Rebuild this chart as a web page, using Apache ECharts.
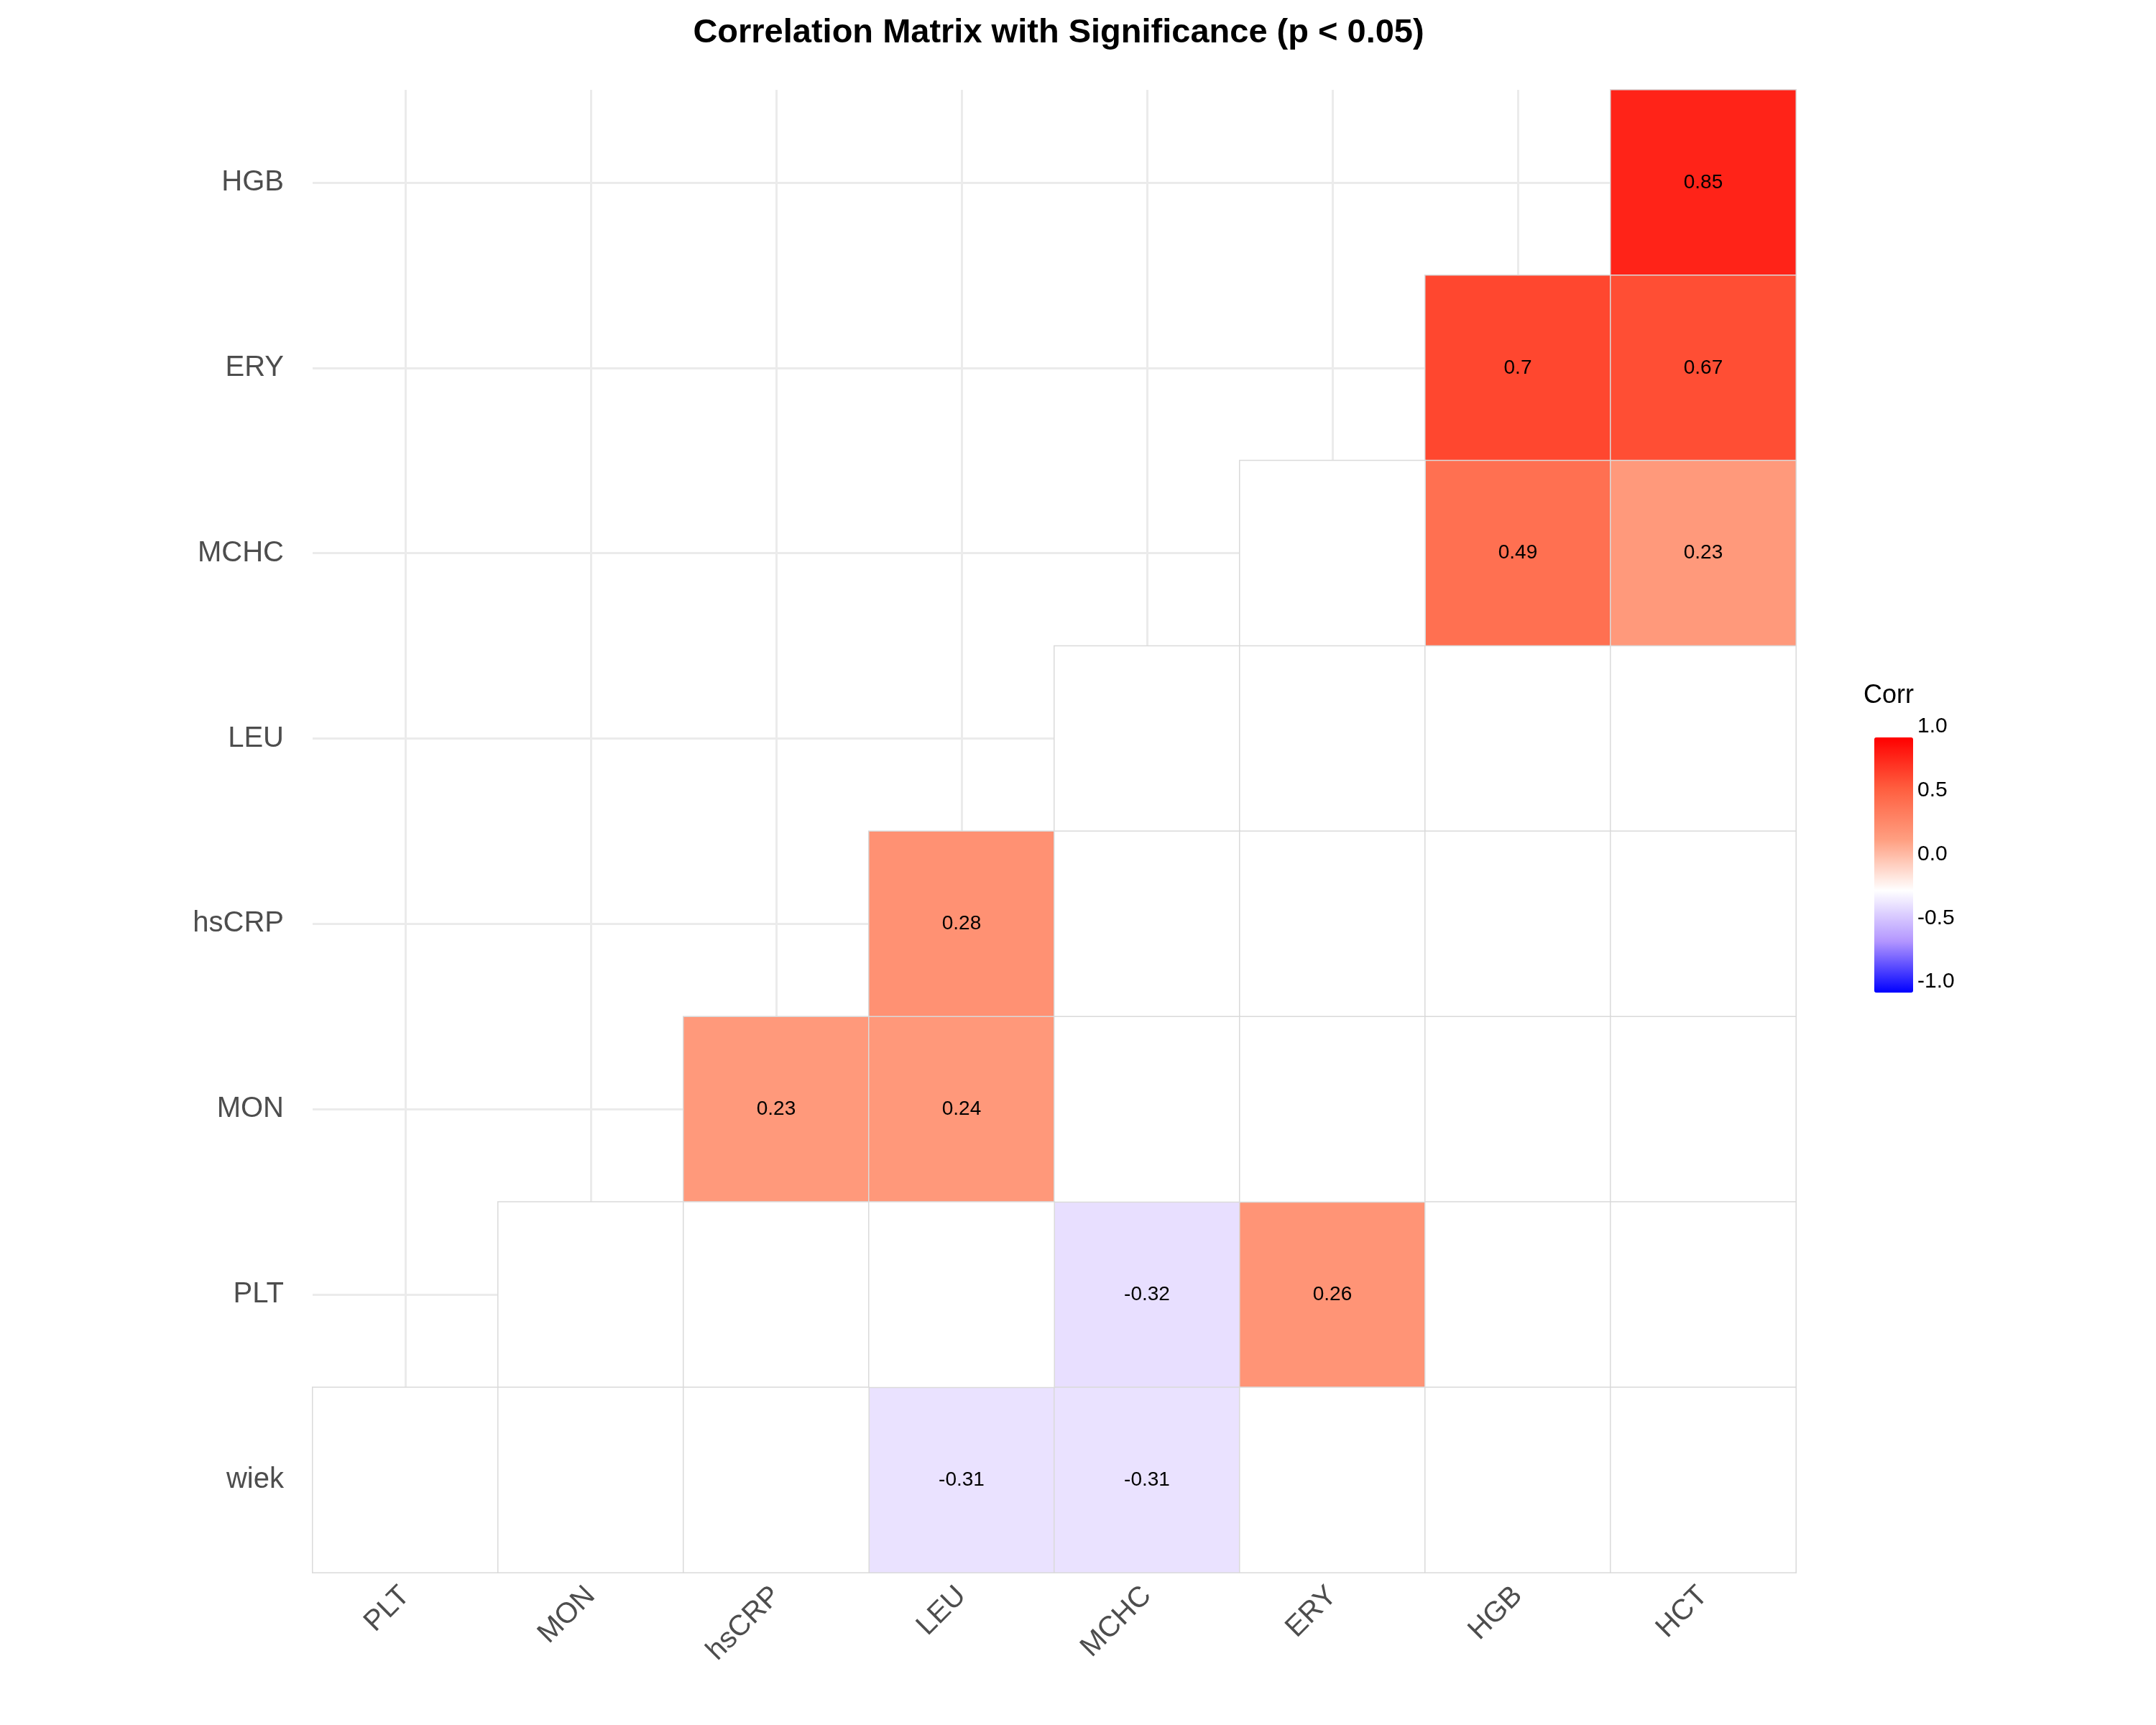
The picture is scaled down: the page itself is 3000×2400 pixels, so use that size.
<!DOCTYPE html>
<html>
<head>
<meta charset="utf-8">
<script src="https://cdn.jsdelivr.net/npm/echarts@6/dist/echarts.min.js"></script>
<style>html,body{margin:0;padding:0;background:#fff}#chart{width:3000px;height:2400px}</style>
</head>
<body>
<div id="chart"></div>
<script>
// categories
const xCats = ['PLT', 'MON', 'hsCRP', 'LEU', 'MCHC', 'ERY', 'HGB', 'HCT'];
const yCats = ['wiek', 'PLT', 'MON', 'hsCRP', 'LEU', 'MCHC', 'ERY', 'HGB'];
// significant correlations [x, y, r]
const sigCells = [
    ['HCT', 'HGB', 0.85],
    ['HGB', 'ERY', 0.7], ['HCT', 'ERY', 0.67],
    ['HGB', 'MCHC', 0.49], ['HCT', 'MCHC', 0.23],
    ['LEU', 'hsCRP', 0.28],
    ['hsCRP', 'MON', 0.23], ['LEU', 'MON', 0.24],
    ['MCHC', 'PLT', -0.32], ['ERY', 'PLT', 0.26],
    ['LEU', 'wiek', -0.31], ['MCHC', 'wiek', -0.31]
];
// non significant cells (blank)
const blankCells = [
    ['ERY', 'MCHC'],
    ['MCHC', 'LEU'], ['ERY', 'LEU'], ['HGB', 'LEU'], ['HCT', 'LEU'],
    ['MCHC', 'hsCRP'], ['ERY', 'hsCRP'], ['HGB', 'hsCRP'], ['HCT', 'hsCRP'],
    ['MCHC', 'MON'], ['ERY', 'MON'], ['HGB', 'MON'], ['HCT', 'MON'],
    ['MON', 'PLT'], ['hsCRP', 'PLT'], ['LEU', 'PLT'], ['HGB', 'PLT'], ['HCT', 'PLT'],
    ['PLT', 'wiek'], ['MON', 'wiek'], ['hsCRP', 'wiek'], ['ERY', 'wiek'], ['HGB', 'wiek'], ['HCT', 'wiek']
];
const legendTicks = [1.0, 0.5, 0.0, -0.5, -1.0];

const chart = echarts.init(document.getElementById('chart'));
const gridTop = 125, gridH = 2063, vmTop = 1011, vmH = 355;

const gridLines = xCats.map(c => ({ xAxis: c })).concat(yCats.map(c => ({ yAxis: c })));

const option = {
    backgroundColor: '#fff',
    title: {
        text: 'Correlation Matrix with Significance (p < 0.05)',
        left: 1468, top: 18, textAlign: 'center',
        textStyle: { fontFamily: 'Liberation Sans', fontWeight: 'bold', fontSize: 47, color: '#000' }
    },
    grid: { left: 435, width: 2064, top: gridTop, height: gridH },
    xAxis: {
        type: 'category', data: xCats,
        axisLine: { show: false }, axisTick: { show: false }, splitLine: { show: false },
        axisLabel: { rotate: 45, fontSize: 40, color: '#4D4D4D', fontFamily: 'Liberation Sans', margin: 26 }
    },
    yAxis: {
        type: 'category', data: yCats,
        axisLine: { show: false }, axisTick: { show: false }, splitLine: { show: false },
        axisLabel: { fontSize: 40, color: '#4D4D4D', fontFamily: 'Liberation Sans', margin: 40 }
    },
    visualMap: {
        type: 'continuous', min: -1, max: 1, seriesIndex: 1,
        calculable: false, showLabel: false, text: ['', ''],
        left: 2593, top: vmTop, itemWidth: 54, itemHeight: vmH,
        inRange: { color: ['#0000FF', '#B295FF', '#FFFFFF', '#FF9E80', '#FF5E3F', '#FF0000'] }
    },
    graphic: [{
        type: 'text', left: 2593, top: 950,
        style: { text: 'Corr', fontSize: 36, fill: '#000', fontFamily: 'Liberation Sans' }
    }].concat(legendTicks.map(v => ({
        type: 'text', left: 2668, top: vmTop + (1 - v) / 2 * vmH - 15,
        style: { text: v.toFixed(1), fontSize: 30, fill: '#000', fontFamily: 'Liberation Sans' }
    }))),
    series: [{
        type: 'scatter', data: [], zlevel: 0,
        markLine: {
            silent: true, symbol: 'none', label: { show: false },
            lineStyle: { color: '#EBEBEB', width: 3, type: 'solid' },
            data: gridLines, animation: false
        }
    }, {
        type: 'heatmap', zlevel: 1,
        data: sigCells.map(d => [d[0], d[1], d[2]]),
        itemStyle: { borderColor: '#DADADA', borderWidth: 1.5 },
        label: { show: true, fontSize: 28, color: '#000', fontFamily: 'Liberation Sans' }
    }, {
        type: 'heatmap', zlevel: 1,
        data: blankCells.map(d => [d[0], d[1], 0]),
        itemStyle: { color: '#FFFFFF', borderColor: '#DADADA', borderWidth: 1.5 },
        label: { show: false }
    }]
};
chart.setOption(option);
</script>
</body>
</html>
